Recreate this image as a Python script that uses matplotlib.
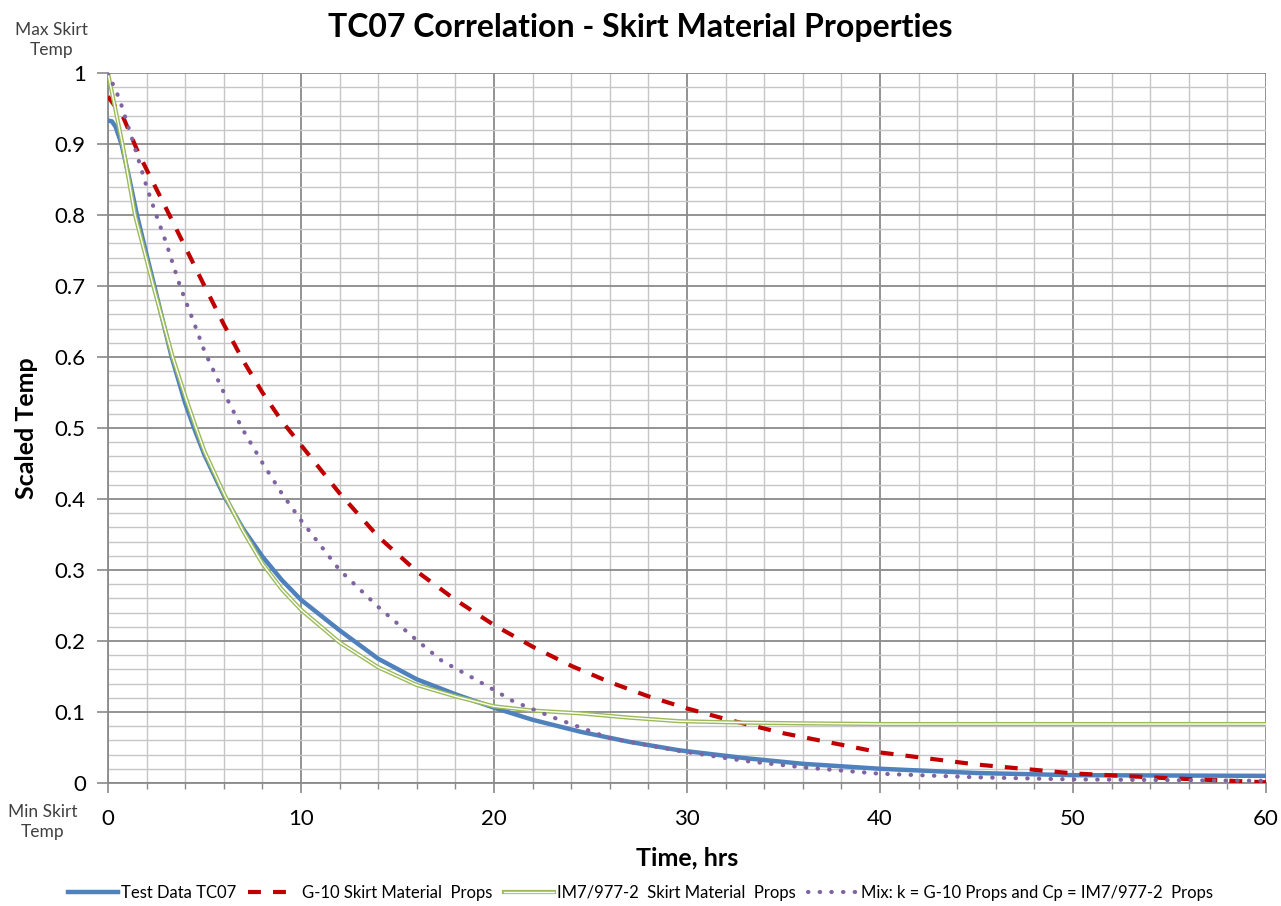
import matplotlib.pyplot as plt
from matplotlib.ticker import MultipleLocator

# Series (time in hrs, scaled temp)
test_t = [0, 0.2, 0.4, 0.7, 1.1, 1.5, 2.0, 2.4, 3.3, 4, 4.5, 5, 6, 7, 8, 9, 10, 12, 14, 16, 18, 20,
          22, 24.5, 27, 29.6, 33, 36, 40, 45, 50, 55, 60]
test_v = [0.933, 0.932, 0.924, 0.9, 0.852, 0.8, 0.744, 0.7, 0.6, 0.535, 0.497, 0.462, 0.405, 0.358,
          0.319, 0.286, 0.258, 0.215, 0.175, 0.146, 0.125, 0.106, 0.089, 0.072, 0.058, 0.046, 0.035,
          0.027, 0.02, 0.014, 0.011, 0.0105, 0.01]

g10_t = [0, 0.8, 1.55, 2, 3, 4, 5, 6, 7, 8, 9, 10, 12, 14, 16, 18, 20, 22, 24, 26, 28, 30, 32, 35,
         40, 45, 50, 55, 60]
g10_v = [0.967, 0.937, 0.889, 0.864, 0.81, 0.755, 0.7, 0.646, 0.595, 0.55, 0.51, 0.476, 0.408, 0.347,
         0.298, 0.258, 0.2225, 0.192, 0.165, 0.142, 0.122, 0.105, 0.09, 0.07, 0.043, 0.026, 0.0135,
         0.0066, 0.001]

im7_t = [0, 0.75, 1.4, 2.35, 3.35, 4, 4.5, 5, 6, 7, 8, 9, 10, 12, 14, 16, 18, 20, 22, 24.5, 27, 29.6,
         33, 36, 40, 45, 50, 60]
im7_v = [1.0, 0.9, 0.8, 0.7, 0.6, 0.545, 0.505, 0.467, 0.408, 0.355, 0.309, 0.273, 0.244, 0.198,
         0.163, 0.138, 0.122, 0.108, 0.102, 0.098, 0.092, 0.087, 0.085, 0.084, 0.083, 0.083, 0.083,
         0.083]

mix_t = [0, 0.6, 1.3, 2, 2.5, 3, 3.73, 4.5, 5, 6, 7, 8, 9, 10, 12, 14, 16, 17.3, 18.9, 20, 21, 23,
         26, 29.5, 33, 36, 40, 45, 50, 55, 60]
mix_v = [1.0, 0.963, 0.903, 0.84, 0.8, 0.762, 0.7, 0.645, 0.608, 0.55, 0.497, 0.451, 0.408, 0.37,
         0.30, 0.248, 0.201, 0.172, 0.148, 0.131, 0.115, 0.093, 0.063, 0.0455, 0.031, 0.022, 0.013,
         0.008, 0.005, 0.004, 0.003]

y_ticks = [0, 0.1, 0.2, 0.3, 0.4, 0.5, 0.6, 0.7, 0.8, 0.9, 1]
y_labels = ['0', '0.1', '0.2', '0.3', '0.4', '0.5', '0.6', '0.7', '0.8', '0.9', '1']
x_ticks = [0, 10, 20, 30, 40, 50, 60]

plt.rcParams['font.family'] = ['Lato', 'DejaVu Sans']

fig = plt.figure(figsize=(12.81, 9.06), dpi=100)
ax = fig.add_axes([0.0843, 0.1358, 0.904, 0.7836])

# Lines
ax.plot(test_t, test_v, color='#4F81BD', lw=3.2, label='Test Data TC07', zorder=3)
ax.plot(g10_t, g10_v, color='#C00000', lw=3.0, dashes=(3.1, 2.9), label='G-10 Skirt Material  Props',
        zorder=4)
g_out, = ax.plot(im7_t, im7_v, color='#9BBB59', lw=3.0, zorder=5)
g_in, = ax.plot(im7_t, im7_v, color='white', lw=1.0, zorder=5)
mix, = ax.plot(mix_t, mix_v, color='#8064A2', lw=3.0, linestyle=(0, (0.1, 2.7)),
               dash_capstyle='round', zorder=6)

# Axes, ticks and grid
ax.set_xlim(0, 60)
ax.set_ylim(0, 1)
ax.set_xticks(x_ticks)
ax.xaxis.set_minor_locator(MultipleLocator(2))
ax.set_yticks(y_ticks)
ax.set_yticklabels(y_labels)
ax.yaxis.set_minor_locator(MultipleLocator(0.02))
ax.grid(which='major', color='#8a8a8a', lw=1.3, zorder=1)
ax.grid(which='minor', color='#c6c6c6', lw=1.0, zorder=0)
ax.set_axisbelow(True)
ax.tick_params(axis='x', which='major', length=7, width=1.2, color='#8a8a8a', labelsize=16, pad=12)
ax.tick_params(axis='x', which='minor', length=4, width=1.0, color='#8a8a8a')
ax.tick_params(axis='y', which='major', length=8, width=1.2, color='#8a8a8a', labelsize=16, pad=8)
ax.tick_params(axis='y', which='minor', length=0)
for side in ['top', 'right']:
    ax.spines[side].set_visible(False)
for side in ['left', 'bottom']:
    ax.spines[side].set_color('#8a8a8a')
    ax.spines[side].set_linewidth(1.3)

# Titles and labels
fig.text(0.5, 0.97, 'TC07 Correlation - Skirt Material Properties', ha='center', va='center',
         fontsize=23, fontweight='bold')
ax.set_xlabel('Time, hrs', fontsize=18, fontweight='bold', labelpad=12)
ax.set_ylabel('Scaled Temp', fontsize=18, fontweight='bold', labelpad=12)
fig.text(0.0405, 0.956, 'Max Skirt\nTemp', ha='center', va='center', fontsize=12.5, color='#404040',
         linespacing=1.3)
fig.text(0.033, 0.093, 'Min Skirt\nTemp', ha='center', va='center', fontsize=12.5, color='#404040',
         linespacing=1.3)

# Legend
handles, labels = ax.get_legend_handles_labels()
handles += [(g_out, g_in), mix]
labels += ['IM7/977-2  Skirt Material  Props', 'Mix: k = G-10 Props and Cp = IM7/977-2  Props']
fig.legend(handles, labels, loc='center', bbox_to_anchor=(0.5, 0.014), ncol=4, frameon=False,
           fontsize=12, handlelength=3.0, columnspacing=0.7, handletextpad=0.2)

plt.savefig('out.png', dpi=100)
